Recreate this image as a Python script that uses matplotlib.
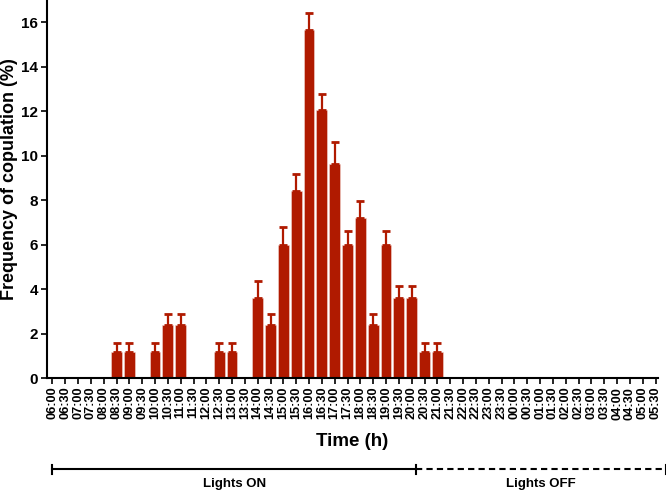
import matplotlib
matplotlib.use("Agg")
import matplotlib.pyplot as plt
import numpy as np

plt.rcParams['font.family'] = ['Liberation Sans', 'DejaVu Sans']
plt.rcParams['font.weight'] = 'bold'

times = ["06:00","06:30","07:00","07:30","08:00","08:30","09:00","09:30",
         "10:00","10:30","11:00","11:30","12:00","12:30","13:00","13:30",
         "14:00","14:30","15:00","15:30","16:00","16:30","17:00","17:30",
         "18:00","18:30","19:00","19:30","20:00","20:30","21:00","21:30",
         "22:00","22:30","23:00","23:30","00:00","00:30","01:00","01:30",
         "02:00","02:30","03:00","03:30","04:00","04:30","05:00","05:30"]
freq = [0,0,0,0,0,1.2,1.2,0,
        1.2,2.4,2.4,0,0,1.2,1.2,0,
        3.6,2.4,6.0,8.4,15.66,12.05,9.64,6.0,
        7.2,2.4,6.0,3.6,3.6,1.2,1.2,0,
        0,0,0,0,0,0,0,0,
        0,0,0,0,0,0,0,0]
err = [0,0,0,0,0,0.38,0.38,0,
       0.38,0.48,0.48,0,0,0.38,0.38,0,
       0.76,0.49,0.79,0.77,0.74,0.73,1.0,0.62,
       0.77,0.49,0.62,0.57,0.57,0.37,0.37,0,
       0,0,0,0,0,0,0,0,
       0,0,0,0,0,0,0,0]
phases = ["Lights ON", "Lights OFF"]

color = '#B01A00'
fig = plt.figure(figsize=(6.66, 4.91), dpi=100)
ax = fig.add_axes([0.0701, 0.2295, 0.918, 0.7705])

x = np.arange(len(times))
f = np.array(freq)
e = np.array(err)
ax.bar(x, f, width=0.84, color=color, edgecolor='#f3d6d0', linewidth=0.4, zorder=2)
mask = e > 0
ax.errorbar(x[mask], f[mask], yerr=[np.zeros(mask.sum()), e[mask]], fmt='none',
            ecolor=color, elinewidth=1.6, capsize=2.6, capthick=2.0, zorder=3)

ax.set_xlim(-0.44, 47.2)
ax.set_ylim(0, 17)
ax.set_yticks(range(0, 17, 2))
ax.set_xticks(x)
ax.set_xticklabels(times, rotation=90, fontsize=9.2, fontweight='bold')
for lab in ax.get_yticklabels():
    lab.set_fontsize(11)
    lab.set_fontweight('bold')
ax.spines['top'].set_visible(False)
ax.spines['right'].set_visible(False)
ax.spines['left'].set_linewidth(1.5)
ax.spines['bottom'].set_linewidth(1.5)
ax.tick_params(axis='both', width=1.2, length=4, pad=2)
ax.set_ylabel("Frequency of copulation (%)", fontsize=13, fontweight='bold')
ax.yaxis.set_label_coords(-0.047, 0.527)
ax.set_xlabel("Time (h)", fontsize=13.5, fontweight='bold', labelpad=10)

# Lights ON / OFF bar below the axis (positions in data x, figure y)
trans = matplotlib.transforms.blended_transform_factory(ax.transData, fig.transFigure)
x0, xm, x1 = 0.0, 28.35, 47.8
yl = 0.0438
ax.plot([x0, xm], [yl, yl], color='black', lw=1.5, transform=trans, clip_on=False)
ax.plot([xm, x1], [yl, yl], color='black', lw=1.5, ls=(0, (3, 2)), transform=trans, clip_on=False)
for xv in (x0, xm, x1):
    ax.plot([xv, xv], [yl - 0.009, yl + 0.009], color='black', lw=1.5, transform=trans, clip_on=False)
ax.text((x0 + xm) / 2, 0.0143, phases[0], transform=trans, ha='center', va='center',
        fontsize=9.5, fontweight='bold')
ax.text((xm + x1) / 2, 0.0143, phases[1], transform=trans, ha='center', va='center',
        fontsize=9.5, fontweight='bold')

fig.savefig("out.png", dpi=100)
